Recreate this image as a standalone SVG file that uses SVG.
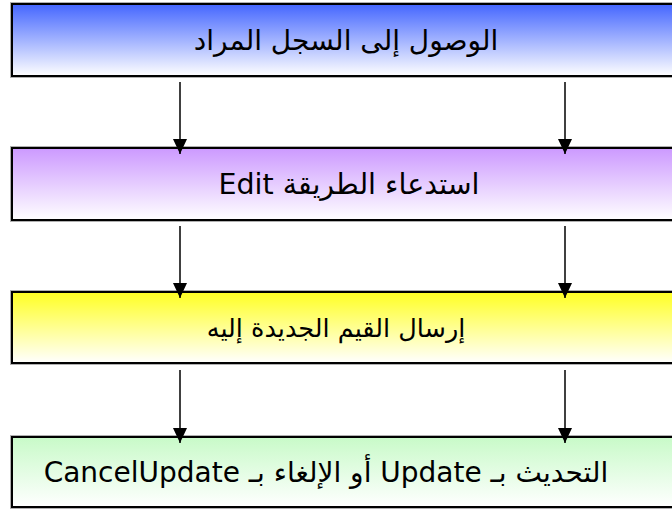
<svg xmlns="http://www.w3.org/2000/svg" width="672" height="509" viewBox="0 0 672 509">
<defs>
<linearGradient id="g1" x1="0" y1="0" x2="0" y2="1"><stop offset="0" stop-color="#4466ff"/><stop offset="1" stop-color="#ffffff"/></linearGradient>
<linearGradient id="g2" x1="0" y1="0" x2="0" y2="1"><stop offset="0" stop-color="#cc99ff"/><stop offset="1" stop-color="#ffffff"/></linearGradient>
<linearGradient id="g3" x1="0" y1="0" x2="0" y2="1"><stop offset="0" stop-color="#ffff22"/><stop offset="1" stop-color="#ffffff"/></linearGradient>
<linearGradient id="g4" x1="0" y1="0" x2="0" y2="1"><stop offset="0" stop-color="#c8fac8"/><stop offset="1" stop-color="#ffffff"/></linearGradient>
<marker id="ah" viewBox="0 0 15 14" refX="15" refY="7" markerWidth="15" markerHeight="14" markerUnits="userSpaceOnUse" orient="auto">
<path d="M0,0 L15,7 L0,14 Z" fill="#000"/>
</marker>
</defs>
<style>
.halo{fill:none;stroke:#b0b0b0;stroke-width:4}
.box{stroke:#000;stroke-width:2}
.t{font-family:"DejaVu Sans",sans-serif;font-size:28px;fill:#000;text-anchor:middle}
.c{stroke:#000;stroke-width:1.5;fill:none}
</style>
<g id="n1">
<rect class="halo" x="12" y="4" width="670" height="72"/>
<rect class="box" x="12" y="4" width="670" height="72" fill="url(#g1)"/>
<text class="t" x="346" y="50" direction="rtl">الوصول إلى السجل المراد</text>
</g>
<g id="n2">
<rect class="halo" x="12" y="148" width="670" height="72"/>
<rect class="box" x="12" y="148" width="670" height="72" fill="url(#g2)"/>
<text class="t" x="349" y="194" direction="rtl" style="font-size:28.5px">استدعاء الطريقة  Edit</text>
</g>
<g id="n3">
<rect class="halo" x="12" y="292" width="670" height="71"/>
<rect class="box" x="12" y="292" width="670" height="71" fill="url(#g3)"/>
<text class="t" x="336" y="337" direction="rtl" style="font-size:25.5px">إرسال القيم الجديدة إليه</text>
</g>
<g id="n4">
<rect class="halo" x="12" y="437" width="670" height="70"/>
<rect class="box" x="12" y="437" width="670" height="70" fill="url(#g4)"/>
<text class="t" x="326" y="482" direction="rtl">التحديث بـ Update أو الإلغاء بـ CancelUpdate</text>
</g>
<g id="connectors">
<line class="c" x1="180" y1="82" x2="180" y2="154" marker-end="url(#ah)"/>
<line class="c" x1="565" y1="82" x2="565" y2="154" marker-end="url(#ah)"/>
<line class="c" x1="180" y1="226" x2="180" y2="298" marker-end="url(#ah)"/>
<line class="c" x1="565" y1="226" x2="565" y2="298" marker-end="url(#ah)"/>
<line class="c" x1="180" y1="370" x2="180" y2="443" marker-end="url(#ah)"/>
<line class="c" x1="565" y1="370" x2="565" y2="443" marker-end="url(#ah)"/>
</g>
</svg>
